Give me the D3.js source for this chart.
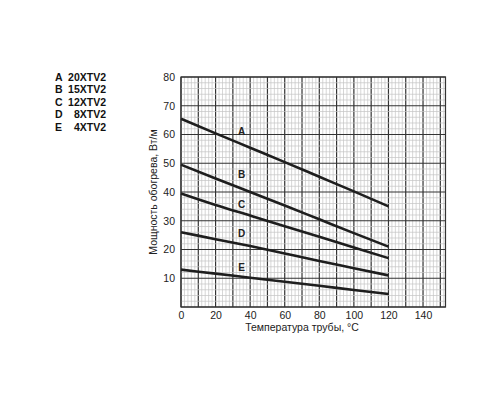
<!DOCTYPE html>
<html><head><meta charset="utf-8">
<script src="https://cdn.jsdelivr.net/npm/d3@7"></script>
<style>body{margin:0;background:#fff;font-family:"Liberation Sans",Arial,sans-serif}</style>
</head><body><svg id="c" width="500" height="400"></svg>
<script>
// данные кривых (температура, мощность)
const temps = [0, 20, 40, 60, 80, 100, 120];
const seriesA = [65.5, 60.4, 55.4, 50.4, 45.3, 40.2, 35];
const seriesB = [49.5, 44.7, 40, 35.3, 30.5, 25.7, 21];
const seriesC = [39.5, 35.5, 31.8, 28.1, 24.4, 20.7, 17];
const seriesD = [26, 23.6, 21.2, 18.6, 16, 13.5, 11];
const seriesE = [13, 11.6, 10.2, 8.8, 7.4, 5.9, 4.5];
const curveLabels = ["A", "B", "C", "D", "E"];
const labelPos = [61, 46, 35.5, 25.4, 13.6];
const legendNames = ["20XTV2", "15XTV2", "12XTV2", "8XTV2", "4XTV2"];
const xTicks = [0, 20, 40, 60, 80, 100, 120, 140];
const yTicks = [10, 20, 30, 40, 50, 60, 70, 80];

const svg = d3.select("#c");
const x = d3.scaleLinear().domain([0, 153]).range([181, 445.5]);
const y = d3.scaleLinear().domain([0, 80]).range([307, 77]);

// сетка
const g = svg.append("g");
d3.range(0, 153.1, 2).forEach(v => g.append("line")
  .attr("x1", x(v)).attr("x2", x(v)).attr("y1", y(0)).attr("y2", y(80))
  .attr("stroke", v % 10 === 0 ? "#333" : "#c4c4c4").attr("stroke-width", v % 10 === 0 ? 1.2 : 0.7));
d3.range(0, 80.1, 2).forEach(v => g.append("line")
  .attr("x1", x(0)).attr("x2", x(153)).attr("y1", y(v)).attr("y2", y(v))
  .attr("stroke", v % 10 === 0 ? "#333" : "#c4c4c4").attr("stroke-width", v % 10 === 0 ? 1.2 : 0.7));
g.append("rect").attr("x", x(0)).attr("y", y(80)).attr("width", x(153) - x(0)).attr("height", y(0) - y(80))
  .attr("fill", "none").attr("stroke", "#333").attr("stroke-width", 1.2);

// оси
const xAxis = svg.append("g").attr("transform", `translate(0,${y(0)})`)
  .call(d3.axisBottom(x).tickValues(xTicks).tickSize(0).tickPadding(5));
const yAxis = svg.append("g").attr("transform", `translate(${x(0)},0)`)
  .call(d3.axisLeft(y).tickValues(yTicks).tickSize(0).tickPadding(6));
[xAxis, yAxis].forEach(a => {
  a.select(".domain").remove();
  a.selectAll("text").attr("font-family", "Liberation Sans, Arial").attr("font-size", 10.5).attr("fill", "#222");
});

svg.append("text").attr("x", x(70)).attr("y", 331).attr("text-anchor", "middle")
  .attr("font-size", 10.5).attr("fill", "#222").text("Температура трубы, °C");
svg.append("text").attr("transform", `translate(157,${y(40)}) rotate(-90)`).attr("text-anchor", "middle")
  .attr("font-size", 10.5).attr("fill", "#222").text("Мощность обогрева, Вт/м");

// кривые
const line = d3.line().x((d, i) => x(temps[i])).y(d => y(d)).curve(d3.curveMonotoneX);
[seriesA, seriesB, seriesC, seriesD, seriesE].forEach((s, i) => {
  svg.append("path").attr("d", line(s)).attr("fill", "none").attr("stroke", "#1e1e1e").attr("stroke-width", 2.6);
  svg.append("text").attr("x", x(35)).attr("y", y(labelPos[i])).attr("dy", "0.35em").attr("text-anchor", "middle")
    .attr("font-size", 10).attr("font-weight", "bold").attr("fill", "#222").text(curveLabels[i]);
});

// легенда
curveLabels.forEach((c, i) => {
  const ly = 77 + i * 12.5;
  svg.append("text").attr("x", 55).attr("y", ly).attr("dy", "0.35em").attr("font-size", 10.5)
    .attr("font-weight", "bold").attr("fill", "#111").text(c);
  svg.append("text").attr("x", 106).attr("y", ly).attr("dy", "0.35em").attr("text-anchor", "end").attr("font-size", 10.5)
    .attr("font-weight", "bold").attr("fill", "#111").text(legendNames[i]);
});
</script></body></html>
